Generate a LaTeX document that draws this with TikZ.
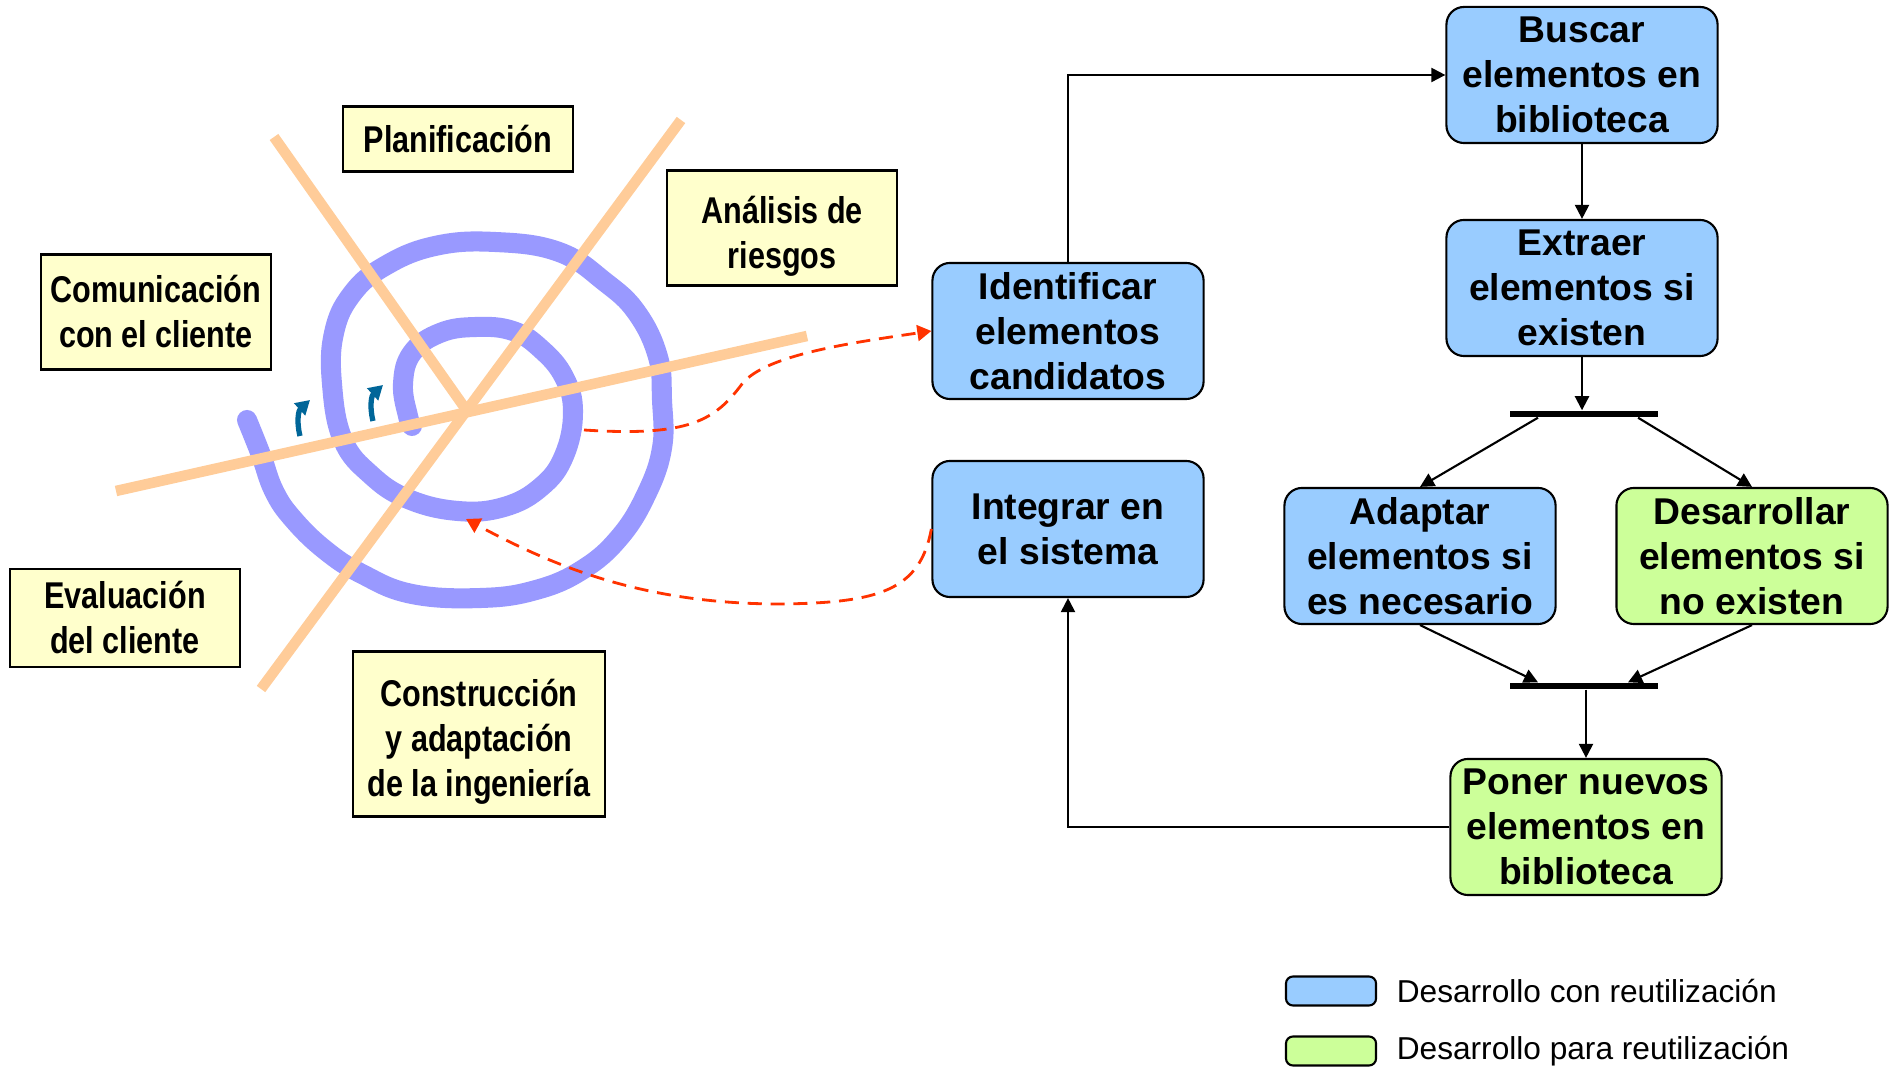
\documentclass[tikz,border=0pt]{standalone}
\usepackage{fontspec}
\setmainfont{Liberation Sans}
\newfontfamily\narrowsf[FakeStretch=0.82]{Liberation Sans}
\usetikzlibrary{
    arrows.meta,
    positioning,
    calc
}
\definecolor{reuse blue}{HTML}{99CCFF}
\definecolor{for green}{HTML}{CCFF99}
\definecolor{note yellow}{HTML}{FFFFCC}
\definecolor{spiral lilac}{HTML}{9999FF}
\definecolor{axis peach}{HTML}{FFCC99}
\definecolor{turn teal}{HTML}{006699}
\definecolor{link red}{HTML}{FF3300}
\tikzset{
    % Boxes
    activity/.style={draw,line width=0.6pt,rounded corners=5pt,minimum width=2.71cm,minimum height=1.36cm,
        align=center,inner sep=1pt,font=\fontsize{10.6}{12.8}\selectfont\bfseries},
    reuse/.style={activity,fill=reuse blue},
    for reuse/.style={activity,fill=for green},
    notebox/.style={draw,fill=note yellow,line width=0.7pt,align=center,minimum width=2.3cm,inner sep=1pt,
        font=\fontsize{10.6}{12.8}\selectfont\narrowsf\bfseries},
    bar/.style={fill=black,inner sep=0pt,minimum width=1.48cm,minimum height=0.06cm},
    legend key/.style={draw,line width=0.6pt,rounded corners=2pt,minimum width=0.9cm,minimum height=0.29cm,inner sep=0pt},
    legend text/.style={inner sep=0pt,font=\fontsize{9}{11}\selectfont},
    %
    % Arrows
    arrow tip/.tip={Triangle[length=4pt,width=4pt]},
    conn/.style={-{arrow tip},line width=0.6pt},
    dashlink/.style={-{Triangle[length=4pt,width=4.5pt]},link red,dash pattern=on 4pt off 2.5pt,line width=0.8pt},
    turn/.style={-{Triangle[length=4pt,width=4.5pt]},turn teal,line width=1.5pt},
    %
    % Spiral model
    axis/.style={axis peach,line width=3pt},
    spiral/.style={spiral lilac,line width=5.7pt,line cap=round,line join=round}
}

\begin{document}
\begin{tikzpicture}[x=0.01cm,y=-0.01cm]
    \useasboundingbox (0,0) rectangle (1891,1068);

    % spiral and its axes
    \draw[spiral] plot[smooth,tension=0.7] coordinates {
        (247,420) (261,455) (274,491) (293,519) (325,550) (362,574) (412,594) (481,598)
        (536,590) (582,570) (619,538) (646,495) (662,448) (662,400) (658,357) (637,313)
        (605,282) (559,252) (495,242) (435,246) (385,266) (352,294) (334,333) (332,384)
        (343,440) (371,475) (408,499) (458,511) (504,507) (541,487) (564,456) (573,412)
        (564,377) (541,349) (513,331) (476,327) (440,333) (412,353) (403,384) (408,416) (412,426)};
    \draw[axis] (274,137) -- (467,411);
    \draw[axis] (681,120) -- (261,689);
    \draw[axis] (116,491) -- (807,336);
    \draw[turn] (300,436) .. controls (296,420) and (299,410) .. (310,400);
    \draw[turn] (373,421) .. controls (369,405) and (372,395) .. (383,385);
    \coordinate (innerright) at (584,430);
    \coordinate (innerbot) at (466,519);

    \node[notebox,minimum height=0.65cm] (planif) at (458,139) {Planificación};
    \node[notebox,minimum height=1.15cm] (riesgos) at (782,228) {\rule{0pt}{12.5pt}Análisis de\\riesgos};
    \node[notebox,minimum height=1.15cm] (comunic) at (156,312) {Comunicación\\con el cliente};
    \node[notebox,minimum height=0.98cm] (evalua) at (125,618) {Evaluación\\del cliente};
    \node[notebox,minimum width=2.52cm,minimum height=1.65cm] (constr) at (479,734) {\rule{0pt}{12pt}Construcción\\y adaptación\\de la ingeniería};

    % reuse process
    \node[reuse] (buscar) at (1582,75) {Buscar\\elementos en\\biblioteca};
    \node[reuse] (extraer) at (1582,288) {Extraer\\elementos si\\existen};
    \node[reuse] (identif) at (1068,331) {Identificar\\elementos\\candidatos};
    \node[reuse] (integrar) at (1068,529) {Integrar en\\el sistema};
    \node[reuse] (adaptar) at (1420,556) {Adaptar\\elementos si\\es necesario};
    \node[for reuse] (desarr) at (1752,556) {Desarrollar\\elementos si\\no existen};
    \node[for reuse] (poner) at (1586,827) {Poner nuevos\\elementos en\\biblioteca};
    \node[bar] (fork) at (1584,414) {};
    \node[bar] (join) at (1584,686) {};

    \draw[conn] (identif.north) |- (buscar.west);
    \draw[conn] (buscar.south) -- (extraer.north);
    \draw[conn] (extraer.south) -- (extraer.south |- fork.north);
    \draw[conn] ([xshift=-0.46cm]fork.south) -- (adaptar.north);
    \draw[conn] ([xshift=0.54cm]fork.south) -- (desarr.north);
    \draw[conn] (adaptar.south) -- ([xshift=-0.46cm]join.north);
    \draw[conn] (desarr.south) -- ([xshift=0.44cm]join.north);
    \draw[conn] (poner.north |- join.south) -- (poner.north);
    \draw[conn] (poner.west) -| (integrar.south);

    \draw[dashlink] (innerright) .. controls (690,437) and (715,420) .. (742,384)
        .. controls (765,355) and (850,343) .. (identif.west);
    \draw[dashlink] (integrar.west) .. controls (920,590) and (880,603) .. (780,604)
        .. controls (650,604) and (560,570) .. (innerbot);

    % legend
    \node[legend key,fill=reuse blue] (keyreuse) at (1331,991) {};
    \node[legend text,right=0.19cm of keyreuse] (txtreuse) {Desarrollo con reutilización};
    \node[legend key,fill=for green] (keyfor) at (1331,1051) {};
    \node[legend text,right=0.19cm of keyfor] (txtfor) {Desarrollo para reutilización};
\end{tikzpicture}
\end{document}
